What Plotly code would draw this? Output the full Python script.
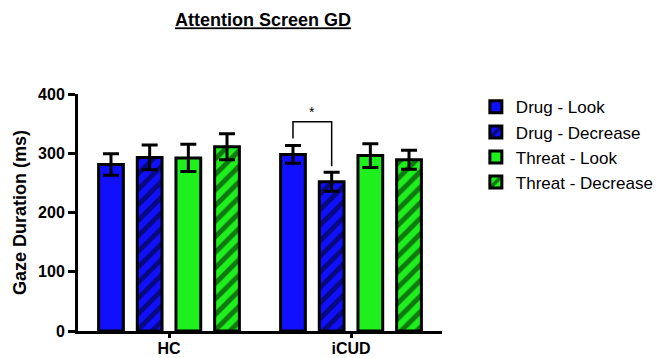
import plotly.graph_objects as go

groups = ["HC", "iCUD"]
series = ["Drug - Look", "Drug - Decrease", "Threat - Look", "Threat - Decrease"]
means = {
    "Drug - Look": [281, 298],
    "Drug - Decrease": [293, 252],
    "Threat - Look": [292, 296],
    "Threat - Decrease": [311, 289],
}
errors = {
    "Drug - Look": [18, 15],
    "Drug - Decrease": [21, 16],
    "Threat - Look": [23, 20],
    "Threat - Decrease": [22, 16],
}
colors = {
    "Drug - Look": "#1010ff",
    "Drug - Decrease": "#1010ff",
    "Threat - Look": "#1ef01e",
    "Threat - Decrease": "#1ef01e",
}
hatched = {"Drug - Look": False, "Drug - Decrease": True,
           "Threat - Look": False, "Threat - Decrease": True}

FONT = "Arial, Liberation Sans, Helvetica, sans-serif"
BARGAP = 0.15
BARGROUPGAP = 0.36

fig = go.Figure()
for s in series:
    pattern = dict(shape="/", fgcolor="black", bgcolor=colors[s], size=11,
                   solidity=0.45) if hatched[s] else dict(shape="")
    fig.add_trace(go.Bar(
        name=s, x=groups, y=means[s],
        marker=dict(color=colors[s], line=dict(color="black", width=3),
                    pattern=pattern),
        error_y=dict(type="data", array=errors[s], color="black",
                     thickness=3, width=8),
    ))

# significance bracket between iCUD Drug-Look and Drug-Decrease
slot = (1 - BARGAP) / len(series)
x_left = 1 - 1.5 * slot
x_right = 1 - 0.5 * slot
bracket_top = 353
left_bottom = means["Drug - Look"][1] + errors["Drug - Look"][1] + 12
right_bottom = means["Drug - Decrease"][1] + errors["Drug - Decrease"][1] + 10
fig.add_shape(type="path", xref="x", yref="y",
              path=f"M {x_left},{left_bottom} L {x_left},{bracket_top} "
                   f"L {x_right},{bracket_top} L {x_right},{right_bottom}",
              line=dict(color="black", width=1.5))
fig.add_annotation(x=(x_left + x_right) / 2, y=bracket_top, xref="x", yref="y",
                   text="*", showarrow=False, yanchor="bottom",
                   font=dict(family=FONT, size=14, color="black"))

fig.update_layout(
    width=661, height=358,
    margin=dict(l=78, r=219, t=94, b=27, pad=0, autoexpand=False),
    paper_bgcolor="white", plot_bgcolor="white",
    barmode="group", bargap=BARGAP, bargroupgap=BARGROUPGAP,
    font=dict(family=FONT, color="black"),
    title=dict(text="<b><u>Attention Screen GD</u></b>", x=0.398, xref="container",
               xanchor="center", y=0.944, yanchor="middle",
               font=dict(family=FONT, size=18, color="black")),
    legend=dict(x=1.093, xanchor="left", y=1.02, yanchor="top",
                font=dict(family=FONT, size=17, color="black"),
                tracegroupgap=0, itemwidth=30, bgcolor="rgba(0,0,0,0)"),
    showlegend=True,
)
fig.update_xaxes(type="category", showline=True, linecolor="black", linewidth=3,
                 ticks="outside", ticklen=4, tickwidth=3, tickcolor="black",
                 showgrid=False, zeroline=False, automargin=False,
                 ticklabelstandoff=-3,
                 tickfont=dict(family=FONT, size=16, color="black", weight="bold"))
fig.update_yaxes(range=[0, 400], tickvals=[0, 100, 200, 300, 400],
                 showline=True, linecolor="black", linewidth=3,
                 ticks="outside", ticklen=7, tickwidth=3, tickcolor="black",
                 showgrid=False, zeroline=False, automargin=False,
                 tickfont=dict(family=FONT, size=16, color="black", weight="bold"),
                 title=dict(text="Gaze Duration (ms)", standoff=7,
                            font=dict(family=FONT, size=18, color="black", weight="bold")))

fig.write_html("out.html", config={"displayModeBar": False},
               post_script="document.body.style.margin='0';")
